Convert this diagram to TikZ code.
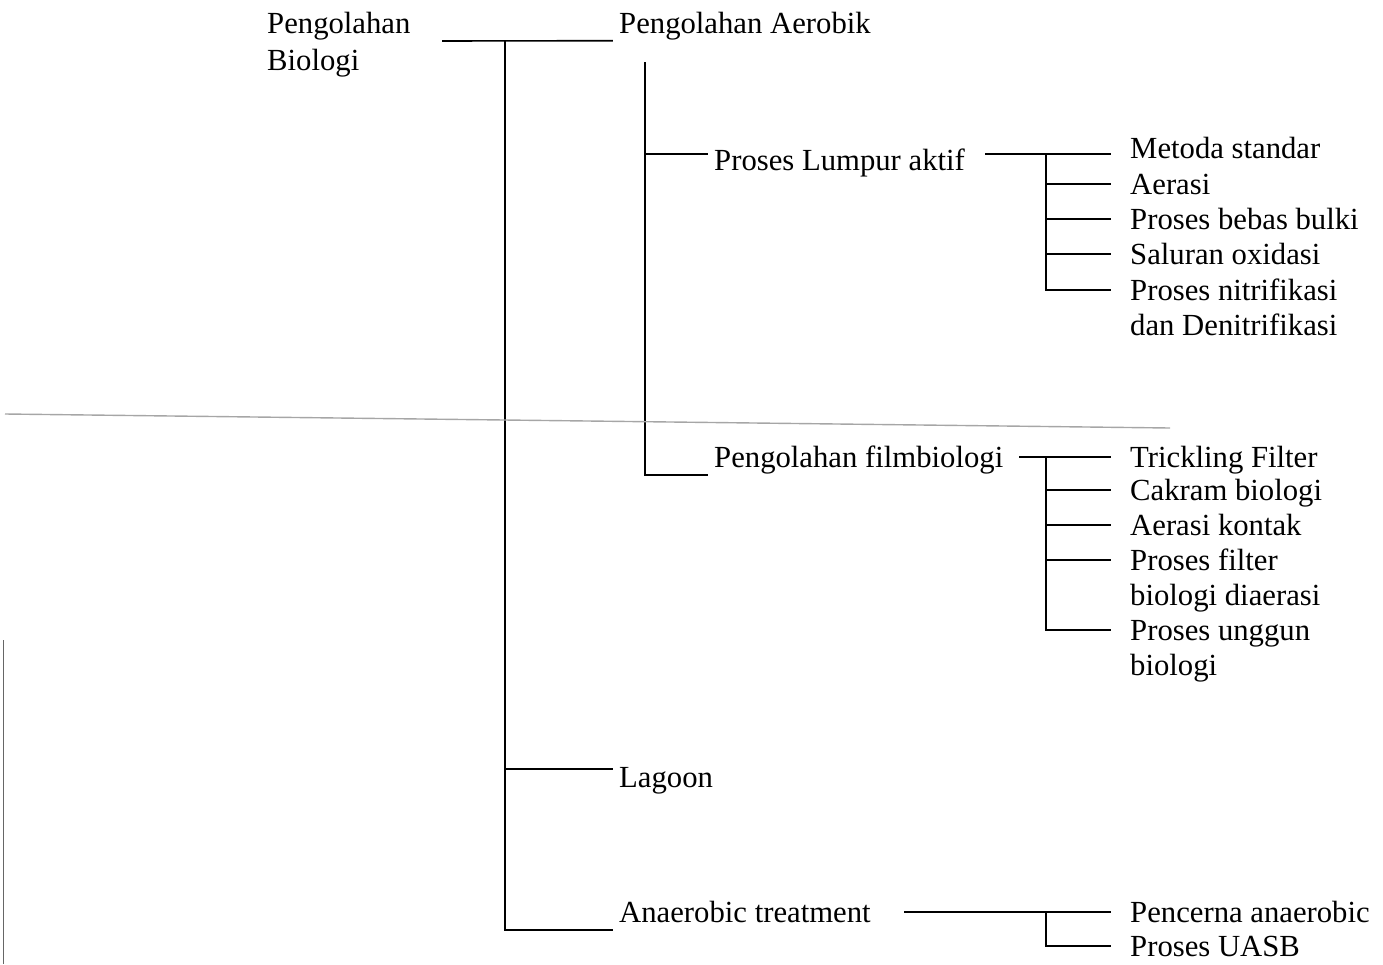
\documentclass[tikz,border=0pt]{standalone}
\usepackage{fontspec}
\setmainfont{Liberation Serif}
\begin{document}
\begin{tikzpicture}[x=1pt,y=-1pt,
  every node/.style={inner ysep=0pt, text height=27.5pt, text depth=7.5pt,
    anchor=west, font=\fontsize{30.7}{35}\selectfont},
  plain/.style={inner xsep=0pt},
  mid/.style={inner xsep=7pt},
  leaf/.style={inner xsep=20pt},
  link/.style={line width=1.6pt, line cap=rect},
  scanline/.style={line width=1.4pt, gray!70}]
\useasboundingbox (0,0) rectangle (1383,964);

% root
\node[plain] (bio1) at (267,23) {Pengolahan};
\node[plain] (bio2) at (267,60) {Biologi};
\coordinate (bioOut) at (443,41);
\coordinate (trunk) at (505,41);

% first level
\node[mid] (aer) at (612,23) {Pengolahan Aerobik};
\node[mid] (lag) at (612,777) {Lagoon};
\node[mid] (anr) at (612,912) {Anaerobic treatment};

\draw[link] (bioOut) -- (aer.south west);
\draw[link] (trunk) |- ([yshift=8pt]lag.west);
\draw[link] (trunk) |- (anr.south west);

% aerobic branch
\node[mid] (lump) at (707,160) {Proses Lumpur aktif};
\node[mid] (film) at (707,457) {Pengolahan filmbiologi};
\coordinate (aerTop) at (645,63);
\draw[link] (aerTop) |- (film.south west);
\draw[link] (aerTop |- lump.west) ++(0,-6) -- ([yshift=6pt]lump.west);

% activated sludge variants
\node[leaf] (m1) at (1110,148) {Metoda standar};
\node[leaf] (m2) at (1110,184) {Aerasi};
\node[leaf] (m3) at (1110,219) {Proses bebas bulki};
\node[leaf] (m4) at (1110,254) {Saluran oxidasi};
\node[leaf] (m5) at (1110,290) {Proses nitrifikasi};
\node[leaf] (m5b) at (1110,325) {dan Denitrifikasi};
\coordinate (ja) at (1046,154);
\draw[link] ([xshift=14pt]lump.east |- ja) -- ([yshift=-6pt]m1.west);
\foreach \n in {m2,m3,m4,m5} \draw[link] (ja) |- (\n.west);

% biofilm variants
\node[leaf] (f1) at (1110,457) {Trickling Filter};
\node[leaf] (f2) at (1110,490) {Cakram biologi};
\node[leaf] (f3) at (1110,525) {Aerasi kontak};
\node[leaf] (f4) at (1110,560) {Proses filter};
\node[leaf] (f4b) at (1110,595) {biologi diaerasi};
\node[leaf] (f5) at (1110,630) {Proses unggun};
\node[leaf] (f5b) at (1110,665) {biologi};
\coordinate (jf) at (1046,457);
\draw[link] ([xshift=9pt]film.east) -- (f1.west);
\foreach \n in {f2,f3,f4,f5} \draw[link] (jf) |- (\n.west);

% anaerobic variants
\node[leaf] (a1) at (1110,912) {Pencerna anaerobic};
\node[leaf] (a2) at (1110,946) {Proses UASB};
\coordinate (jn) at (1046,912);
\draw[link] ([xshift=27pt]anr.east) -- (a1.west);
\draw[link] (jn) |- (a2.west);

% stray rules along the sheet
\draw[scanline] (5,414) -- (1170,428);
\draw[line width=1pt, gray!80!black] (3,640) -- (3,964);
\end{tikzpicture}
\end{document}
